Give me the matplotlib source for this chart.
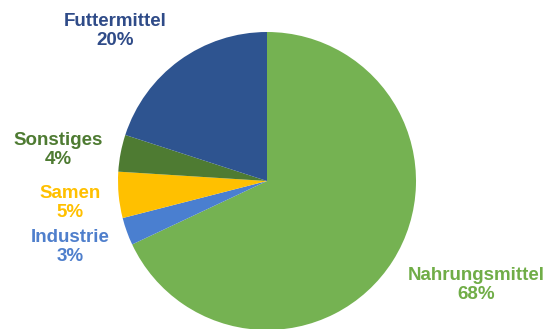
import matplotlib.pyplot as plt

plt.rcParams['font.family'] = ['Liberation Sans', 'DejaVu Sans']

# Verwendung - Anteile in Prozent
categories = ['Nahrungsmittel', 'Industrie', 'Samen', 'Sonstiges', 'Futtermittel']
shares = [68, 3, 5, 4, 20]
colors = ['#75b252', '#4a7fd0', '#ffc000', '#4e7b32', '#2e5490']
text_colors = ['#70ad47', '#4f7fcc', '#ffc000', '#4e7b32', '#2f4b88']
label_pos = [(476, 285), (70, 247), (70, 203), (58, 150), (115, 31)]

fig = plt.figure(figsize=(5.52, 3.29), dpi=100)
ax = fig.add_axes([0, 0, 1, 1])

# y axis runs downwards, so start at -90 and go "counterclockwise" = clockwise on screen
ax.pie(shares, colors=colors, startangle=-90, counterclock=True,
       center=(267, 181), radius=149, frame=True,
       wedgeprops=dict(linewidth=0))
ax.set_xlim(0, 552)
ax.set_ylim(329, 0)
ax.axis('off')

for name, val, col, (x, y) in zip(categories, shares, text_colors, label_pos):
    ax.text(x, y, f'{name}\n{val}%', ha='center', va='center', color=col,
            fontsize=13.5, fontweight='bold', linespacing=1.12)

fig.savefig('out.png', dpi=100)
